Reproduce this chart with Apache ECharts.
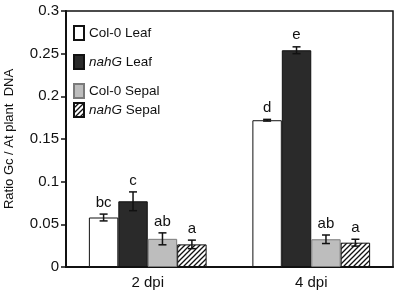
<!DOCTYPE html>
<html><head><meta charset="utf-8">
<script src="https://cdn.jsdelivr.net/npm/echarts@6/dist/echarts.min.js"></script>
<style>html,body{margin:0;padding:0;background:#fff}#c{width:397px;height:292px}</style>
</head><body><div id="c"></div>
<script>
var categories = ['2 dpi', '4 dpi'];
var seriesNames = ['Col-0 Leaf', 'nahG Leaf', 'Col-0 Sepal', 'nahG Sepal'];
var colLeaf = [0.058, 0.172];
var nahgLeaf = [0.077, 0.254];
var colSepal = [0.033, 0.0325];
var nahgSepal = [0.0265, 0.0285];
var colLeafErr = [0.004, 0.001];
var nahgLeafErr = [0.011, 0.004];
var colSepalErr = [0.007, 0.005];
var nahgSepalErr = [0.005, 0.004];
var colLeafSig = ['bc', 'd'];
var nahgLeafSig = ['c', 'e'];
var colSepalSig = ['ab', 'ab'];
var nahgSepalSig = ['a', 'a'];
var yTicks = [0, 0.05, 0.1, 0.15, 0.2, 0.25, 0.3];

var values = [colLeaf, nahgLeaf, colSepal, nahgSepal];
var errs = [colLeafErr, nahgLeafErr, colSepalErr, nahgSepalErr];
var sigs = [colLeafSig, nahgLeafSig, colSepalSig, nahgSepalSig];

// hatch pattern
var pc = document.createElement('canvas');
pc.width = 5; pc.height = 5;
var px = pc.getContext('2d');
px.fillStyle = '#fff'; px.fillRect(0, 0, 5, 5);
px.strokeStyle = '#111'; px.lineWidth = 1.3;
px.beginPath();
px.moveTo(-1, 6); px.lineTo(6, -1);
px.moveTo(-1, 1); px.lineTo(1, -1);
px.moveTo(4, 6); px.lineTo(6, 4);
px.stroke();

var fills = ['#ffffff', '#2a2a2a', '#bdbdbd', {image: pc, repeat: 'repeat'}];
var borders = ['#111', '#111', '#7a7a7a', '#111'];
var GAP = 0.28;

var chart = echarts.init(document.getElementById('c'), null, {renderer: 'canvas'});
var series = [];
values.forEach(function (v, s) {
  series.push({
    name: seriesNames[s], type: 'bar', data: v, barGap: 0, barCategoryGap: '28%',
    itemStyle: {color: fills[s], borderColor: borders[s], borderWidth: 1},
    emphasis: {disabled: true}, animation: false
  });
});
values.forEach(function (v, s) {
  series.push({
    name: 'err' + s, type: 'custom', z: 5, animation: false,
    data: v.map(function (val, i) { return [i, val, errs[s][i]]; }),
    renderItem: function (params, api) {
      var i = api.value(0), val = api.value(1), e = api.value(2);
      var band = api.size([1, 0])[0];
      var bw = band * (1 - GAP) / 4;
      var cx = api.coord([i, val])[0] + (s - 1.5) * bw;
      var yt = api.coord([i, val + e])[1];
      var yb = api.coord([i, val - e])[1];
      var cap = 4;
      var st = {stroke: '#111', lineWidth: 1.5};
      return {type: 'group', children: [
        {type: 'line', shape: {x1: cx, y1: yt, x2: cx, y2: yb}, style: st},
        {type: 'line', shape: {x1: cx - cap, y1: yt, x2: cx + cap, y2: yt}, style: st},
        {type: 'line', shape: {x1: cx - cap, y1: yb, x2: cx + cap, y2: yb}, style: st},
        {type: 'text', x: cx, y: yt - 4, style: {text: sigs[s][i], font: '15px "Liberation Sans", Arial, sans-serif', fill: '#111', align: 'center', verticalAlign: 'bottom'}}
      ]};
    }
  });
});

var legendFmt = function (n) {
  if (n.indexOf('nahG') === 0) return '{i|nahG}{n|' + n.slice(4) + '}';
  return '{n|' + n + '}';
};
var legendText = {
  color: '#111', fontSize: 13.5, fontFamily: 'Liberation Sans',
  rich: {i: {fontStyle: 'italic', fontSize: 13.5, fontFamily: 'Liberation Sans', color: '#111'},
         n: {fontSize: 13.5, fontFamily: 'Liberation Sans', color: '#111'}}
};

chart.setOption({
  animation: false,
  textStyle: {fontFamily: 'Liberation Sans'},
  grid: {left: 66, right: 4, top: 11, bottom: 25, containLabel: false, outerBoundsMode: 'none',
    show: true, borderColor: '#111', borderWidth: 1.5, backgroundColor: 'transparent'},
  legend: [{
    data: seriesNames.slice(0, 3), orient: 'vertical', left: 73, top: 25, padding: 0,
    itemWidth: 10, itemHeight: 14, itemGap: 13, icon: 'rect',
    formatter: legendFmt, textStyle: legendText, selectedMode: false
  }, {
    data: seriesNames.slice(3), orient: 'vertical', left: 73, top: 102, padding: 0,
    itemWidth: 10, itemHeight: 14, icon: 'rect',
    formatter: legendFmt, textStyle: legendText, selectedMode: false
  }],
  xAxis: {
    type: 'category', data: categories,
    axisLine: {lineStyle: {color: '#111', width: 2}},
    axisTick: {show: false},
    axisLabel: {color: '#111', fontSize: 15, margin: 8, fontFamily: 'Liberation Sans'}
  },
  yAxis: {
    type: 'value', min: yTicks[0], max: yTicks[yTicks.length - 1], interval: 0.05,
    name: 'Ratio Gc / At plant  DNA', nameLocation: 'middle', nameGap: 50,
    nameTextStyle: {color: '#111', fontSize: 13, fontFamily: 'Liberation Sans'},
    axisLine: {show: true, lineStyle: {color: '#111', width: 2}},
    axisTick: {show: true, length: 5, lineStyle: {color: '#111', width: 1.5}},
    splitLine: {show: false},
    axisLabel: {color: '#111', fontSize: 15, margin: 7, fontFamily: 'Liberation Sans',
      formatter: function (v) { return String(+v.toFixed(2)); }}
  },
  series: series
});
</script></body></html>
